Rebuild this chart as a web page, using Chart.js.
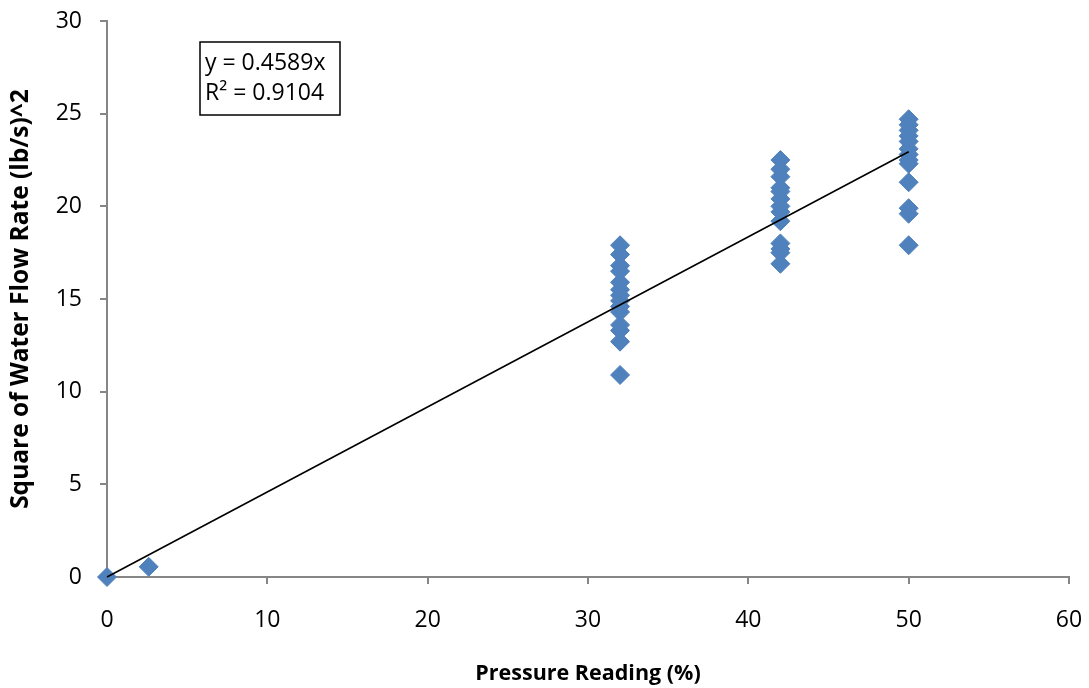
<!DOCTYPE html>
<html>
<head>
<meta charset="utf-8">
<script src="https://cdn.jsdelivr.net/npm/chart.js@4.4.0/dist/chart.umd.min.js"></script>
<style>
  html, body { margin: 0; padding: 0; background: #fff; }
  #wrap { width: 1089px; height: 688px; }
</style>
</head>
<body>
<div id="wrap"><canvas id="chart"></canvas></div>
<script>
// pressure readings (%) and squared flow rates
const pressureLow = [0, 2.6];
const flowLow = [0, 0.55];
const flow32 = [17.9, 17.4, 16.8, 16.5, 15.9, 15.5, 15.2, 14.9, 14.6, 14.3, 13.6, 13.3, 12.7, 10.9];
const flow42 = [22.5, 22.0, 21.6, 21.0, 20.8, 20.4, 20.0, 19.7, 19.2, 18.0, 17.7, 17.5, 16.9];
const flow50 = [24.7, 24.4, 24.1, 23.8, 23.5, 23.1, 22.8, 22.5, 22.3, 21.3, 19.9, 19.6, 17.9];
const slope = 0.4589;
const rSquared = 0.9104;
const trendX = [0, 50];
const xTicks = [0, 10, 20, 30, 40, 50, 60];
const yTicks = [0, 5, 10, 15, 20, 25, 30];

const points = [];
pressureLow.forEach((x, i) => points.push({ x: x, y: flowLow[i] }));
flow32.forEach(v => points.push({ x: 32, y: v }));
flow42.forEach(v => points.push({ x: 42, y: v }));
flow50.forEach(v => points.push({ x: 50, y: v }));

const trend = trendX.map(x => ({ x: x, y: slope * x }));

const FONT = "'Open Sans', sans-serif";
const AXIS = "#868686";

// the equation box in the upper left
const eqBox = {
  id: "eqBox",
  afterDatasetsDraw(chart) {
    const ctx = chart.ctx;
    const a = chart.chartArea;
    const x0 = a.left + 93, y0 = a.top + 21, w = 140, h = 73;
    ctx.save();
    ctx.fillStyle = "#fff";
    ctx.fillRect(x0, y0, w, h);
    ctx.strokeStyle = "#000";
    ctx.lineWidth = 1.5;
    ctx.strokeRect(x0, y0, w, h);
    ctx.fillStyle = "#000";
    ctx.font = "23px " + FONT;
    ctx.textBaseline = "middle";
    ctx.fillText("y = " + slope + "x", x0 + 5, y0 + 21);
    ctx.fillText("R\u00b2 = " + rSquared, x0 + 5, y0 + 51);
    ctx.restore();
  }
};

new Chart(document.getElementById("chart"), {
  type: "scatter",
  data: {
    datasets: [
      {
        label: "Readings",
        data: points,
        pointStyle: "rectRot",
        pointRadius: 9.5,
        pointHoverRadius: 9.5,
        backgroundColor: "#4F81BD",
        borderColor: "#4F81BD",
        borderWidth: 1,
        clip: false,
        order: 2
      },
      {
        label: "Linear fit",
        type: "line",
        data: trend,
        borderColor: "#000",
        borderWidth: 1.6,
        pointRadius: 0,
        fill: false,
        clip: false,
        order: 1
      }
    ]
  },
  plugins: [eqBox],
  options: {
    responsive: true,
    maintainAspectRatio: false,
    animation: false,
    layout: { padding: { left: 0, right: 20, top: 21, bottom: 0 } },
    plugins: {
      legend: { display: false },
      tooltip: { enabled: false }
    },
    scales: {
      x: {
        type: "linear",
        min: 0,
        max: 60,
        afterBuildTicks: s => { s.ticks = xTicks.map(v => ({ value: v })); },
        afterFit: s => { s.height = 111; s.paddingLeft = 0; s.paddingRight = 0; },
        border: { color: AXIS, width: 2 },
        grid: { drawOnChartArea: false, drawTicks: true, tickLength: 7, color: AXIS, lineWidth: 2 },
        ticks: { color: "#000", font: { family: FONT, size: 23 }, padding: 23, maxRotation: 0 },
        title: {
          display: true,
          text: "Pressure Reading (%)",
          color: "#000",
          font: { family: FONT, size: 21.5, weight: "bold" },
          padding: { top: 0, bottom: 1 }
        }
      },
      y: {
        type: "linear",
        min: 0,
        max: 30,
        afterBuildTicks: s => { s.ticks = yTicks.map(v => ({ value: v })); },
        afterFit: s => { s.width = 107; s.paddingTop = 0; s.paddingBottom = 0; },
        border: { color: AXIS, width: 2 },
        grid: { drawOnChartArea: false, drawTicks: true, tickLength: 7, color: AXIS, lineWidth: 2 },
        ticks: { color: "#000", font: { family: FONT, size: 23 }, padding: 18 },
        title: {
          display: true,
          text: "Square of Water Flow Rate (lb/s)^2",
          color: "#000",
          font: { family: FONT, size: 24.5, weight: "bold" },
          padding: { top: 6, bottom: 0 }
        }
      }
    }
  }
});
</script>
</body>
</html>
